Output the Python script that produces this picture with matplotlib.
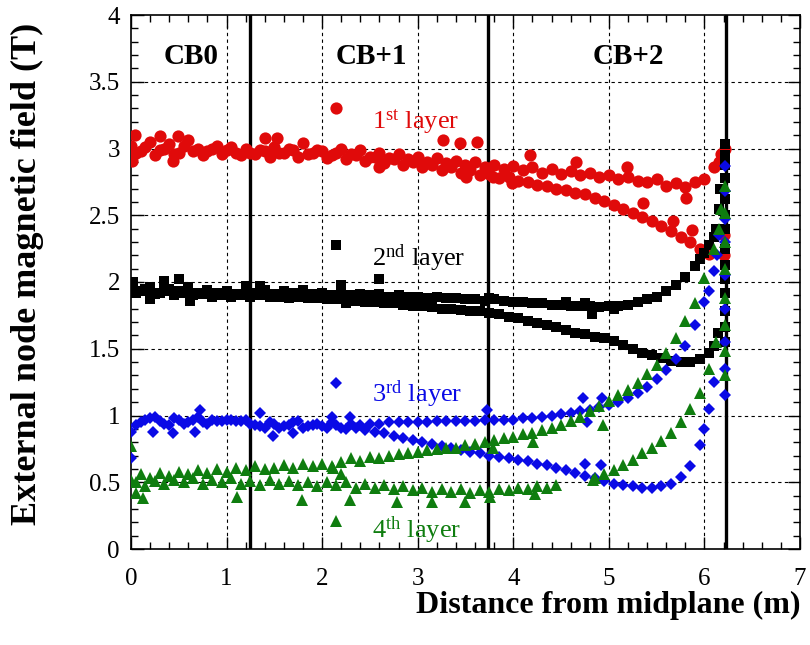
import matplotlib
matplotlib.use("Agg")
import matplotlib.pyplot as plt
from matplotlib.ticker import MultipleLocator
import numpy as np

plt.rcParams['font.family'] = ['Liberation Serif', 'DejaVu Serif']
plt.rcParams['mathtext.fontset'] = 'custom'
plt.rcParams['mathtext.rm'] = 'Liberation Serif'
plt.rcParams['mathtext.it'] = 'Liberation Serif:italic'
plt.rcParams['mathtext.bf'] = 'Liberation Serif:bold'

# sampling positions along the barrel (m)
x_a = np.linspace(0.0, 6.1, 62)
x_b = np.linspace(0.05, 6.05, 61)

# 1st layer (red)
red_a = [3.02, 2.98, 3.05, 2.99, 3.03, 2.97, 3.06, 3.00, 2.98, 3.02,
         2.99, 2.97, 3.00, 2.96, 2.98, 3.01, 2.97, 2.99, 3.04, 2.97,
         2.98, 2.95, 3.00, 2.96, 2.99, 2.94, 2.97, 2.93, 2.96, 2.92,
         2.94, 2.90, 2.93, 2.89, 2.91, 2.88, 2.90, 2.86, 2.88, 2.85,
         2.87, 2.84, 2.86, 2.82, 2.85, 2.81, 2.83, 2.80, 2.82, 2.79,
         2.80, 2.77, 2.79, 2.76, 2.75, 2.77, 2.72, 2.74, 2.71, 2.75,
         2.77, 2.86]
red_b = [2.97, 3.01, 2.95, 3.00, 2.96, 3.02, 2.98, 2.95, 3.00, 2.96,
         3.01, 2.95, 2.97, 2.99, 2.94, 2.97, 3.00, 2.94, 2.96, 2.99,
         2.93, 2.97, 2.92, 2.95, 2.91, 2.94, 2.89, 2.92, 2.88, 2.90,
         2.86, 2.88, 2.84, 2.86, 2.82, 2.84, 2.80, 2.81, 2.78, 2.79,
         2.76, 2.75, 2.73, 2.72, 2.70, 2.69, 2.67, 2.66, 2.63, 2.61,
         2.58, 2.55, 2.52, 2.49, 2.46, 2.42, 2.38, 2.34, 2.30, 2.25,
         2.21]
red_extra_x = [0.02, 0.04, 0.30, 0.49, 1.40, 1.53, 0.01, 0.44, 2.60, 3.26,
               3.44, 3.62, 3.51, 3.79, 3.99, 4.17, 4.66, 5.19, 5.36, 5.67,
               5.81, 5.87, 6.15, 6.17, 6.22, 6.21, 6.20]
red_extra_y = [2.95, 3.10, 3.09, 3.09, 3.08, 3.08, 2.91, 2.91, 2.86, 3.06,
               3.04, 3.05, 2.79, 2.79, 2.74, 2.95, 2.90, 2.86, 2.59, 2.46,
               2.63, 2.39, 2.90, 2.96, 3.00, 2.35, 2.20]

# 2nd layer (black)
black_a = [1.97, 1.93, 1.96, 1.92, 1.95, 1.93, 1.96, 1.92, 1.94, 1.92,
           1.93, 1.91, 1.93, 1.92, 1.94, 1.91, 1.93, 1.92, 1.94, 1.91,
           1.92, 1.90, 1.92, 1.90, 1.91, 1.90, 1.91, 1.89, 1.90, 1.89,
           1.89, 1.88, 1.89, 1.88, 1.88, 1.87, 1.87, 1.86, 1.87, 1.86,
           1.85, 1.85, 1.84, 1.84, 1.83, 1.83, 1.82, 1.82, 1.82, 1.81,
           1.82, 1.82, 1.83, 1.85, 1.87, 1.89, 1.93, 1.98, 2.04, 2.12,
           2.22, 2.34]
black_b = [1.92, 1.95, 1.91, 1.93, 1.90, 1.92, 1.90, 1.91, 1.89, 1.90,
           1.89, 1.90, 1.89, 1.90, 1.89, 1.89, 1.88, 1.89, 1.88, 1.88,
           1.87, 1.87, 1.86, 1.86, 1.85, 1.85, 1.84, 1.84, 1.83, 1.82,
           1.82, 1.81, 1.80, 1.80, 1.79, 1.78, 1.78, 1.77, 1.76, 1.74,
           1.73, 1.71, 1.69, 1.68, 1.66, 1.64, 1.62, 1.61, 1.59, 1.58,
           1.56, 1.53, 1.50, 1.47, 1.45, 1.43, 1.41, 1.40, 1.40, 1.42,
           1.47]
black_extra_x = [0.02, 0.20, 0.35, 0.50, 0.62, 1.20, 1.35, 2.20, 2.25, 2.60,
                 3.75, 4.55, 4.75, 4.82, 5.05, 5.95, 6.05, 6.12, 6.15, 6.16,
                 6.10, 6.14, 6.22, 6.22, 6.22, 6.22, 6.22, 6.22, 6.22, 6.22,
                 6.22, 6.22, 6.22, 6.22, 6.22, 6.22]
black_extra_y = [2.00, 1.87, 2.01, 2.02, 1.86, 1.97, 1.97, 1.98, 1.84, 2.02,
                 1.88, 1.85, 1.84, 1.76, 1.80, 2.17, 2.28, 2.40, 2.55, 2.70,
                 1.52, 1.62, 3.03, 2.95, 2.88, 2.78, 2.62, 2.50, 2.40, 2.25,
                 2.13, 2.02, 1.92, 1.78, 1.66, 1.55]

# 3rd layer (blue)
blue_a = [0.88, 0.95, 0.98, 0.96, 0.93, 0.97, 0.95, 0.99, 0.94, 0.96,
          0.97, 0.96, 0.97, 0.93, 0.91, 0.94, 0.92, 0.95, 0.91, 0.93,
          0.92, 0.95, 0.91, 0.94, 0.93, 0.94, 0.94, 0.95, 0.95, 0.95,
          0.95, 0.95, 0.96, 0.96, 0.96, 0.96, 0.96, 0.97, 0.97, 0.97,
          0.97, 0.98, 0.98, 0.99, 1.00, 1.01, 1.02, 1.03, 1.04, 1.06,
          1.08, 1.10, 1.13, 1.17, 1.21, 1.27, 1.34, 1.42, 1.52, 1.68,
          1.85, 2.08]
blue_b = [0.93, 0.97, 0.99, 0.94, 0.98, 0.94, 0.97, 0.95, 0.97, 0.96,
          0.97, 0.96, 0.94, 0.92, 0.95, 0.91, 0.93, 0.96, 0.92, 0.94,
          0.91, 0.93, 0.90, 0.91, 0.89, 0.88, 0.87, 0.85, 0.83, 0.82,
          0.80, 0.79, 0.77, 0.76, 0.74, 0.73, 0.72, 0.70, 0.69, 0.68,
          0.67, 0.66, 0.64, 0.63, 0.61, 0.59, 0.57, 0.55, 0.53, 0.51,
          0.49, 0.48, 0.47, 0.46, 0.46, 0.47, 0.49, 0.54, 0.62, 0.78,
          1.05]
blue_extra_x = [0.00, 0.23, 0.44, 0.67, 0.72, 1.35, 1.49, 1.70, 2.10, 2.29,
                3.72, 4.73, 4.93, 4.77, 4.75, 4.92, 6.00, 6.05, 6.10, 6.13,
                6.15, 6.22, 6.22, 6.22, 6.22, 6.22, 6.22, 6.22, 6.22, 6.22]
blue_extra_y = [0.68, 0.88, 0.87, 0.88, 1.04, 1.02, 0.85, 0.87, 0.99, 0.99,
                1.04, 1.13, 1.13, 0.95, 0.64, 0.63, 0.90, 1.93, 1.25, 2.20,
                2.35, 2.87, 2.68, 2.47, 2.30, 2.05, 1.80, 1.55, 1.35, 1.15]

# 4th layer (green)
green_a = [0.52, 0.56, 0.53, 0.57, 0.55, 0.58, 0.56, 0.59, 0.57, 0.60,
           0.58, 0.61, 0.59, 0.62, 0.60, 0.61, 0.63, 0.61, 0.64, 0.62,
           0.64, 0.62, 0.65, 0.68, 0.66, 0.69, 0.68, 0.70, 0.71, 0.72,
           0.73, 0.74, 0.75, 0.76, 0.76, 0.78, 0.79, 0.80, 0.82, 0.83,
           0.84, 0.86, 0.87, 0.89, 0.91, 0.93, 0.96, 0.99, 1.03, 1.07,
           1.11, 1.15, 1.19, 1.24, 1.31, 1.38, 1.47, 1.58, 1.71, 1.84,
           2.03, 2.25]
x_g1 = np.linspace(0.05, 4.45, 45)
green_b1 = [0.50, 0.47, 0.51, 0.49, 0.52, 0.50, 0.53, 0.49, 0.52, 0.50,
            0.53, 0.49, 0.51, 0.48, 0.52, 0.49, 0.51, 0.48, 0.50, 0.47,
            0.50, 0.48, 0.50, 0.46, 0.49, 0.46, 0.48, 0.45, 0.47, 0.44,
            0.46, 0.43, 0.45, 0.43, 0.45, 0.42, 0.44, 0.43, 0.45, 0.44,
            0.46, 0.45, 0.47, 0.46, 0.48]
x_g2 = np.linspace(4.85, 6.05, 13)
green_b2 = [0.53, 0.56, 0.59, 0.63, 0.67, 0.72, 0.76, 0.81, 0.87, 0.95,
            1.05, 1.17, 1.35]
green_extra_x = [0.00, 0.05, 0.13, 1.11, 1.79, 2.29, 2.78, 3.15, 3.49, 2.11,
                 2.20, 3.76, 3.79, 4.21, 4.23, 4.83, 4.94, 6.12, 6.15, 6.17,
                 6.22, 6.22, 6.22, 6.22, 6.22, 6.22, 6.22, 6.22]
green_extra_y = [0.77, 0.42, 0.38, 0.39, 0.37, 0.37, 0.35, 0.35, 0.35, 0.61,
                 0.56, 0.39, 0.76, 0.80, 0.41, 0.52, 0.93, 1.55, 2.40, 2.55,
                 2.72, 2.52, 2.30, 2.10, 1.88, 1.68, 1.48, 1.30]

# region boundaries and names
boundaries = [1.245, 3.735, 6.23]
region_names = ['CB0', 'CB+1', 'CB+2']
region_x = [0.63, 2.51, 5.20]
region_y = 3.69

# in-plot layer labels
layer_texts = ['1$^{\\rm st}$ layer', '2$^{\\rm nd}$ layer',
               '3$^{\\rm rd}$ layer', '4$^{\\rm th}$ layer']
layer_mark_y = [3.30, 2.28, 1.24, 0.21]
layer_text_y = [3.15, 2.12, 1.10, 0.08]

RED = '#e00a0a'
BLACK = '#000000'
BLUE = '#0a0ae6'
GREEN = '#0f7d0f'

styles = [(RED, 'o', 8.8), (BLACK, 's', 7.8), (BLUE, 'D', 6.3), (GREEN, '^', 9.0)]

fig = plt.figure(figsize=(8.1, 6.45), dpi=100)
ax = fig.add_axes([131 / 810, 1 - 549 / 645, 669 / 810, 534 / 645])

series = [
    [(x_a, red_a), (x_b, red_b), (red_extra_x, red_extra_y)],
    [(x_a, black_a), (x_b, black_b), (black_extra_x, black_extra_y)],
    [(x_a, blue_a), (x_b, blue_b), (blue_extra_x, blue_extra_y)],
    [(x_a, green_a), (x_g1, green_b1), (x_g2, green_b2),
     (green_extra_x, green_extra_y)],
]

for (col, mk, ms), parts in zip(styles, series):
    for xs, ys in parts:
        ax.plot(xs, ys, linestyle='none', marker=mk, ms=ms, color=col,
                markeredgewidth=0, zorder=3)

# grid
for gx in range(1, 7):
    ax.axvline(gx, color='black', lw=0.8, ls=(0, (3, 3)), zorder=1)
for gy in np.arange(0.5, 4.0, 0.5):
    ax.axhline(gy, color='black', lw=0.8, ls=(0, (3, 3)), zorder=1)

for bx in boundaries:
    ax.axvline(bx, color='black', lw=2.4, zorder=2)

for name, rx in zip(region_names, region_x):
    ax.text(rx, region_y, name, ha='center', va='center', fontsize=21,
            fontweight='bold', color='black')

for (col, mk, ms), txt, my, ty in zip(styles, layer_texts, layer_mark_y, layer_text_y):
    ax.plot([2.14], [my], linestyle='none', marker=mk, ms=ms, color=col,
            markeredgewidth=0, zorder=3)
    ax.text(2.52, ty, txt, ha='left', va='baseline', fontsize=19, color=col)

ax.set_xlim(0, 7)
ax.set_ylim(0, 4)
ax.xaxis.set_major_locator(MultipleLocator(1))
ax.xaxis.set_minor_locator(MultipleLocator(0.2))
ax.yaxis.set_major_locator(MultipleLocator(0.5))
ax.yaxis.set_minor_locator(MultipleLocator(0.1))
ax.yaxis.set_major_formatter(plt.FuncFormatter(lambda v, p: f'{v:g}'))
ax.tick_params(which='both', direction='in', top=True, right=True, width=1)
ax.tick_params(which='major', length=9)
ax.tick_params(which='minor', length=5)
ax.tick_params(axis='x', labelsize=18, pad=14)
ax.tick_params(axis='y', labelsize=18, pad=8)
for sp in ax.spines.values():
    sp.set_linewidth(1.2)

ax.set_xlabel('Distance from midplane (m)', fontsize=23, fontweight='bold', loc='right')
ax.xaxis.set_label_coords(1.0, -0.078)
ax.set_ylabel('External node magnetic field (T)', fontsize=26, fontweight='bold', loc='top')
ax.yaxis.set_label_coords(-0.13, 0.985)

fig.savefig('out.png', dpi=100)
